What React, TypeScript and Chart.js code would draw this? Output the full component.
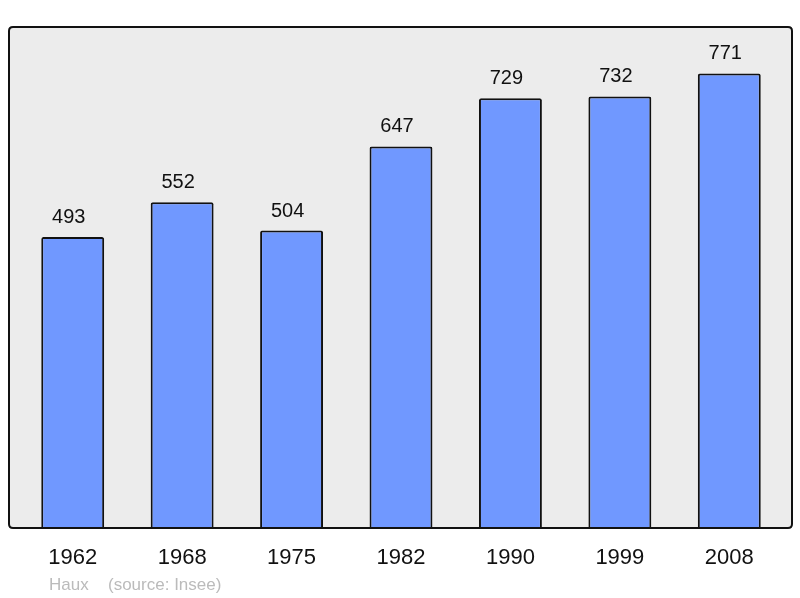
import React, {useEffect, useRef} from 'react';
import Chart from 'chart.js/auto';

const years = ['1962', '1968', '1975', '1982', '1990', '1999', '2008'];
const population = [493, 552, 504, 647, 729, 732, 771];
const townName = 'Haux';
const sourceText = '(source: Insee)';

const fontFamily = '"Liberation Sans", Arial, sans-serif';

const roundRect = (ctx: CanvasRenderingContext2D, x: number, y: number, w: number, h: number, r: number) => {
    ctx.beginPath();
    ctx.moveTo(x + r, y);
    ctx.lineTo(x + w - r, y);
    ctx.quadraticCurveTo(x + w, y, x + w, y + r);
    ctx.lineTo(x + w, y + h - r);
    ctx.quadraticCurveTo(x + w, y + h, x + w - r, y + h);
    ctx.lineTo(x + r, y + h);
    ctx.quadraticCurveTo(x, y + h, x, y + h - r);
    ctx.lineTo(x, y + r);
    ctx.quadraticCurveTo(x, y, x + r, y);
    ctx.closePath();
};

// grey frame behind the bars, border on top of them, plus value labels and footer
const framePlugin = {
    id: 'frame',
    beforeDatasetsDraw: (chart: any) => {
        const {ctx, chartArea} = chart;
        ctx.save();
        roundRect(ctx, chartArea.left - 9, chartArea.top, chartArea.width + 17, chartArea.height + 1, 4);
        ctx.fillStyle = '#ececec';
        ctx.fill();
        ctx.restore();
    },
    afterDatasetsDraw: (chart: any) => {
        const {ctx, chartArea} = chart;
        ctx.save();
        roundRect(ctx, chartArea.left - 9, chartArea.top, chartArea.width + 17, chartArea.height + 1, 4);
        ctx.lineWidth = 2;
        ctx.strokeStyle = '#111';
        ctx.stroke();

        const meta = chart.getDatasetMeta(0);
        ctx.fillStyle = '#111';
        ctx.font = `20px ${fontFamily}`;
        ctx.textAlign = 'center';
        ctx.textBaseline = 'alphabetic';
        meta.data.forEach((bar: any, i: number) => {
            ctx.fillText(String(population[i]), bar.x - 4, bar.y - 14);
        });

        ctx.fillStyle = '#bbbbbb';
        ctx.font = `17px ${fontFamily}`;
        ctx.textAlign = 'left';
        ctx.fillText(townName, 49, 590);
        ctx.fillText(sourceText, 108, 590);
        ctx.restore();
    },
};

const PopulationChart: React.FC = () => {
    const canvasRef = useRef<HTMLCanvasElement>(null);
    const chartRef = useRef<Chart<any> | null>(null);

    useEffect(() => {
        if (!canvasRef.current) return;
        const ctx = canvasRef.current.getContext('2d');
        if (!ctx) return;

        chartRef.current = new Chart(ctx, {
            type: 'bar',
            data: {
                labels: years,
                datasets: [{
                    data: population,
                    backgroundColor: '#7098ff',
                    borderColor: '#111',
                    borderWidth: 2,
                    borderRadius: 2,
                    barPercentage: 0.575,
                    categoryPercentage: 1,
                }],
            },
            options: {
                animation: false,
                responsive: true,
                maintainAspectRatio: false,
                layout: {
                    padding: {left: 18, right: 16, top: 27, bottom: 0},
                },
                scales: {
                    x: {
                        grid: {display: false, drawTicks: false},
                        border: {display: false},
                        ticks: {
                            color: '#111',
                            font: {family: fontFamily, size: 22},
                            padding: 18,
                            maxRotation: 0,
                        },
                        afterFit: (scale: any) => {
                            scale.height = 71;
                        },
                    },
                    y: {
                        display: false,
                        min: 0,
                        max: 850,
                    },
                },
                plugins: {
                    legend: {display: false},
                    tooltip: {enabled: false},
                },
            },
            plugins: [framePlugin],
        });

        return () => {
            if (chartRef.current) {
                chartRef.current.destroy();
                chartRef.current = null;
            }
        };
    }, []);

    return (
        <div style={{position: 'fixed', left: 0, top: 0, width: '800px', height: '598px', background: '#fff'}}>
            <canvas ref={canvasRef}></canvas>
        </div>
    );
};

export default function App() {
    return <PopulationChart/>;
}
